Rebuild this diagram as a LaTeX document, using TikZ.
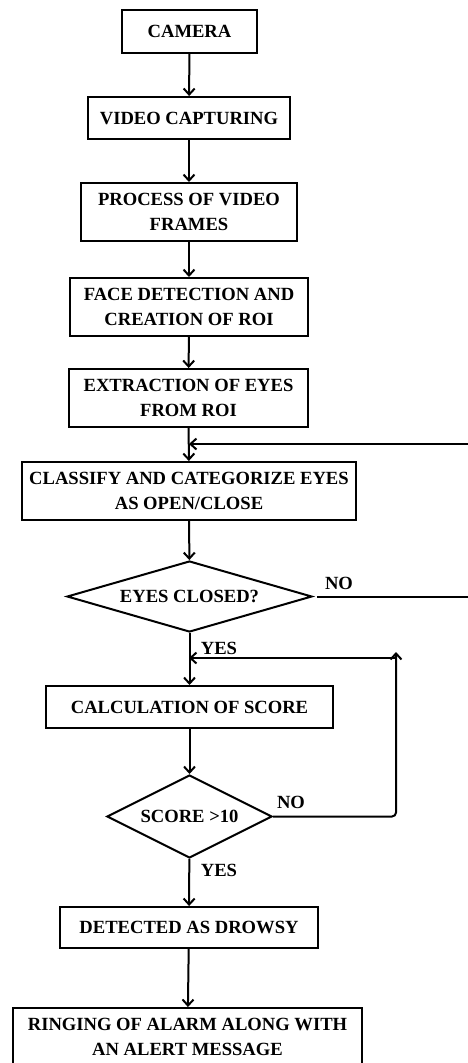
\documentclass[tikz,border=0pt]{standalone}
\usepackage{fontspec}
\setmainfont{Liberation Serif}
\usetikzlibrary{shapes.geometric,arrows.meta}
\begin{document}
\begin{tikzpicture}[x=1pt,y=-1pt,
  every node/.style={font=\fontsize{18.6}{25}\selectfont\bfseries},
  box/.style={draw,line width=2pt,inner sep=0pt,align=center},
  dia/.style={draw,line width=2pt,diamond,inner sep=0pt,align=center},
  lab/.style={inner sep=0pt},
  arr/.style={line width=2pt,-{Straight Barb[length=6pt,width=11pt,line width=2pt]}}]
\useasboundingbox (0,0) rectangle (468,1063);
\clip (0,0) rectangle (468,1063);
\node[box,minimum width=135pt,minimum height=43pt] (cam) at (189.5,31.5) {CAMERA};
\node[box,minimum width=202pt,minimum height=42pt] (vid) at (189,118) {VIDEO CAPTURING};
\node[box,minimum width=216pt,minimum height=58pt] (proc) at (189,212) {PROCESS OF VIDEO\\FRAMES};
\node[box,minimum width=238pt,minimum height=58pt] (face) at (189,307) {FACE DETECTION AND\\CREATION OF ROI};
\node[box,minimum width=239pt,minimum height=58pt] (extr) at (188.5,398) {EXTRACTION OF EYES\\FROM ROI};
\node[box,minimum width=334pt,minimum height=58pt] (clas) at (189,491) {CLASSIFY AND CATEGORIZE EYES\\AS OPEN/CLOSE};
\node[dia,aspect=3.45,minimum width=245pt,minimum height=71pt] (eyes) at (189.5,596.5) {EYES CLOSED?};
\node[box,minimum width=287pt,minimum height=42pt] (calc) at (189.5,707) {CALCULATION OF SCORE};
\node[dia,aspect=1.99,minimum width=165pt,minimum height=83pt] (score) at (189.5,816.5) {SCORE \textgreater 10};
\node[box,minimum width=258pt,minimum height=41pt] (drow) at (189,927.5) {DETECTED AS DROWSY};
\node[box,minimum width=349pt,minimum height=58pt] (ring) at (187.5,1037) {RINGING OF ALARM ALONG WITH\\AN ALERT MESSAGE};

\node[lab] (no1) at (339,583) {NO};
\node[lab] (yes1) at (219,648) {YES};
\node[lab] (no2) at (291,802) {NO};
\node[lab] (yes2) at (219,870) {YES};

\coordinate (j1) at (189,444);
\coordinate (j2) at (189,658);
\coordinate (r1) at (500,596.5);
\coordinate (c2) at (396,652);
\coordinate (c3) at (396,658);

\draw[arr] (cam) -- (vid);
\draw[arr] (vid) -- (proc);
\draw[arr] (proc) -- (face);
\draw[arr] (face) -- (extr);
\draw[arr] (extr) -- (clas);
\draw[arr] (clas) -- (eyes);
\draw[arr] (eyes) -- (calc);
\draw[arr] (calc) -- (score);
\draw[arr] (score) -- (drow);
\draw[arr] (drow) -- (ring);

\draw[arr] ([xshift=4pt]eyes.east) -- (r1) |- (j1);
\draw[arr,rounded corners=4pt] (score.east) -| (c2);
\draw[arr] (c3) -- (j2);
\end{tikzpicture}
\end{document}
